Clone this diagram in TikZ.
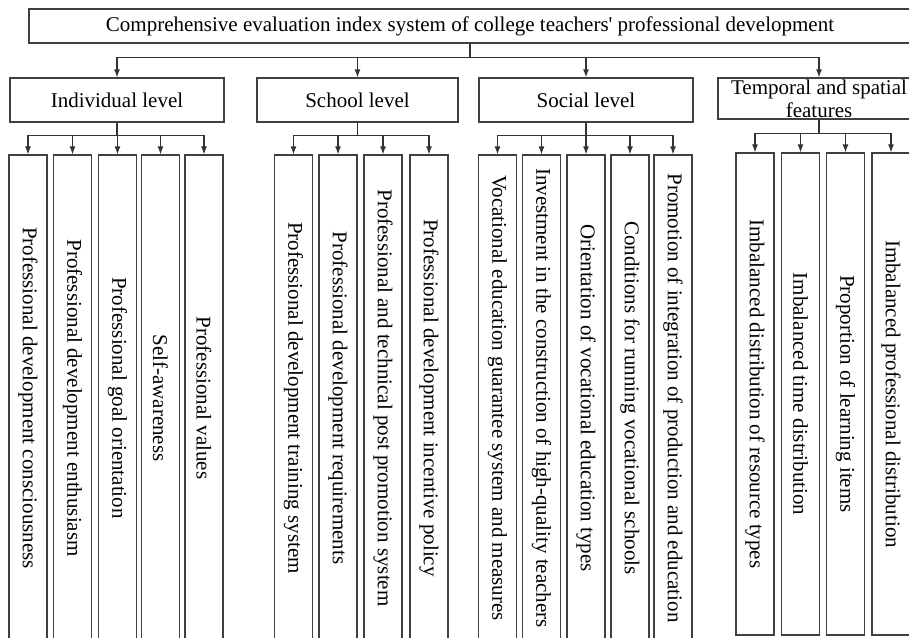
\documentclass[tikz,border=0pt]{standalone}
\usepackage{fontspec}
\usepackage{graphicx}
\setmainfont{Liberation Serif}
\newfontfamily\plainserif{Liberation Serif}
\usetikzlibrary{arrows.meta}
\begin{document}
\begin{tikzpicture}[x=0.75pt,y=-0.75pt,
  box/.style={draw=black!75,line width=0.9pt,inner sep=0pt,
    font=\fontsize{15.75}{17.25}\selectfont},
  level/.style={box,minimum height=33pt},
  leaf/.style={box,minimum width=28.5pt,minimum height=364.5pt},
  tleaf/.style={box,minimum width=28.5pt,minimum height=361.5pt},
  arr/.style={draw=black!80,line width=0.9pt,-{Latex[length=6pt,width=4.5pt]}}]
\useasboundingbox (0,0) rectangle (909,637);
\clip (0,0) rectangle (909,637);
% top
\node[box,minimum width=661.5pt,minimum height=25.5pt] (top) at (470,26)
  {\plainserif Comprehensive evaluation index system of college teachers' professional development};
% levels
\node[level,minimum width=160.5pt] (ind) at (117,100) {Individual level};
\node[level,minimum width=150.75pt] (sch) at (357.5,100) {School level};
\node[level,minimum width=160.5pt] (soc) at (586,100) {Social level};
\node[box,minimum width=151.5pt,minimum height=30.75pt,align=center] (tem) at (819,98.5)
  {Temporal and spatial\\features};
% individual leaves
\node[leaf] (i1) at (28,398)  {\rotatebox{-90}{Professional development consciousness}};
\node[leaf] (i2) at (72.5,398) {\rotatebox{-90}{Professional development enthusiasm}};
\node[leaf] (i3) at (117.5,398) {\rotatebox{-90}{Professional goal orientation}};
\node[leaf] (i4) at (160.5,398) {\rotatebox{-90}{Self-awareness}};
\node[leaf] (i5) at (204,398) {\rotatebox{-90}{Professional values}};
% school leaves
\node[leaf] (s1) at (293.5,398) {\rotatebox{-90}{Professional development training system}};
\node[leaf] (s2) at (338,398) {\rotatebox{-90}{Professional development requirements}};
\node[leaf] (s3) at (383,398) {\rotatebox{-90}{Professional and technical post promotion system}};
\node[leaf] (s4) at (429,398) {\rotatebox{-90}{Professional development incentive policy}};
% social leaves
\node[leaf] (o1) at (497.5,398) {\rotatebox{-90}{Vocational education guarantee system and measures}};
\node[leaf] (o2) at (541.5,398) {\rotatebox{-90}{Investment in the construction of high-quality teachers}};
\node[leaf] (o3) at (586,398) {\rotatebox{-90}{Orientation of vocational education types}};
\node[leaf] (o4) at (630,398) {\rotatebox{-90}{Conditions for running vocational schools}};
\node[leaf] (o5) at (673,398) {\rotatebox{-90}{Promotion of integration of production and education}};
% temporal leaves
\node[tleaf] (t1) at (755,394) {\rotatebox{-90}{Imbalanced distribution of resource types}};
\node[tleaf] (t2) at (800.5,394) {\rotatebox{-90}{Imbalanced time distribution}};
\node[tleaf] (t3) at (845.5,394) {\rotatebox{-90}{Proportion of learning items}};
\node[tleaf] (t4) at (891,394) {\rotatebox{-90}{Imbalanced professional distribution}};
% connectors
\foreach \c in {ind,sch,soc,tem}
  \draw[arr] (top.south) -- ++(0,14) -| (\c.north);
\foreach \c in {i1,i2,i3,i4,i5}
  \draw[arr] (ind.south) -- ++(0,13) -| (\c.north);
\foreach \c in {s1,s2,s3,s4}
  \draw[arr] (sch.south) -- ++(0,13) -| (\c.north);
\foreach \c in {o1,o2,o3,o4,o5}
  \draw[arr] (soc.south) -- ++(0,13) -| (\c.north);
\foreach \c in {t1,t2,t3,t4}
  \draw[arr] (tem.south) -- ++(0,14) -| (\c.north);
\end{tikzpicture}
\end{document}
